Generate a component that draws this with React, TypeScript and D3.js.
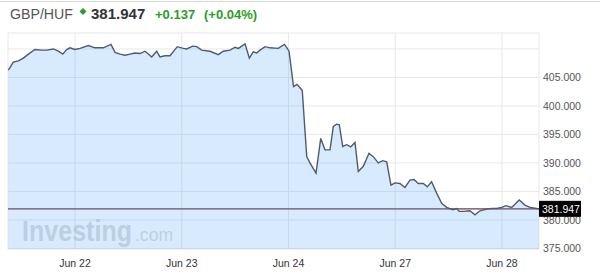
import React from "react";
import * as d3 from "d3";

// time in trading-day units: Jun 21 00:00 = 0, Jun 22 = 1, Jun 23 = 2, Jun 24 = 3, Jun 27 = 4, Jun 28 = 5
const times = [
  0.375, 0.422, 0.469, 0.516, 0.563, 0.625, 0.688, 0.735, 0.797, 0.844, 0.885, 0.922, 0.953, 1.0, 1.047,
  1.125, 1.187, 1.265, 1.337, 1.375, 1.422, 1.468, 1.515, 1.562, 1.609, 1.656, 1.687, 1.718, 1.765, 1.796,
  1.843, 1.89, 1.958, 2.014, 2.046, 2.103, 2.14, 2.187, 2.265, 2.342, 2.389, 2.452, 2.499, 2.53, 2.562,
  2.593, 2.633, 2.67, 2.702, 2.733, 2.78, 2.827, 2.904, 2.961, 2.985, 3.005, 3.047, 3.08, 3.108, 3.129,
  3.171, 3.201, 3.258, 3.302, 3.342, 3.389, 3.42, 3.451, 3.476, 3.508, 3.545, 3.583, 3.623, 3.654, 3.701,
  3.754, 3.794, 3.841, 3.882, 3.92, 3.96, 3.998, 4.044, 4.091, 4.138, 4.176, 4.216, 4.263, 4.3, 4.341,
  4.388, 4.435, 4.482, 4.538, 4.576, 4.6, 4.637, 4.7, 4.747, 4.794, 4.857, 4.903, 4.95, 4.997, 5.037,
  5.091, 5.162, 5.215, 5.262, 5.325, 5.346,
];
const prices = [
  406.3, 407.7, 407.9, 408.4, 409.1, 409.9, 409.8, 409.8, 410.0, 409.6, 409.1, 409.9, 410.2, 409.9, 410.1,
  410.6, 410.2, 410.2, 410.8, 409.4, 409.1, 408.9, 409.1, 409.3, 409.2, 409.6, 409.1, 408.6, 409.6, 408.6,
  408.8, 408.8, 410.4, 410.1, 410.0, 410.5, 410.4, 409.8, 409.6, 409.0, 409.6, 409.8, 410.3, 410.1, 410.5,
  410.9, 408.4, 409.5, 409.3, 409.8, 410.4, 410.2, 410.1, 410.8, 410.2, 409.6, 403.4, 403.8, 403.2, 402.7,
  391.1, 390.0, 388.2, 394.3, 392.3, 392.3, 396.4, 396.8, 396.7, 392.9, 393.2, 392.8, 393.6, 388.5, 389.4,
  391.7, 391.1, 390.0, 390.4, 390.2, 386.1, 386.5, 386.4, 385.7, 387.0, 387.1, 386.4, 386.4, 385.8, 386.7,
  384.7, 382.9, 382.2, 381.8, 382.0, 381.5, 381.5, 381.6, 380.9, 381.6, 381.9, 382.0, 382.0, 382.2, 382.5,
  382.2, 383.5, 382.6, 382.2, 382.0, 381.947,
];

const xTickValues = [1, 2, 3, 4, 5];
const xTickLabels = ["Jun 22", "Jun 23", "Jun 24", "Jun 27", "Jun 28"];
const yGridValues = [375, 380, 385, 390, 395, 400, 405, 410];
const yLabelValues = [375, 380, 385, 390, 395, 400, 405];

const symbol = "GBP/HUF";
const lastPrice = 381.947;
const change = "+0.137";
const changePct = "(+0.04%)";

const FONT = "'Liberation Sans', Arial, sans-serif";

export default function App() {
  const W = 600;
  const H = 274;
  const x = d3.scaleLinear().domain([0.372, 5.347]).range([8, 539]);
  const y = d3.scaleLinear().domain([374.9, 412.8]).range([249, 33]);
  const pts = times.map((t, i) => [t, prices[i]] as [number, number]);
  const line = d3.line<[number, number]>().x((d) => x(d[0])).y((d) => y(d[1]));
  const area = d3
    .area<[number, number]>()
    .x((d) => x(d[0]))
    .y0(y(374.9))
    .y1((d) => y(d[1]));
  const py = y(lastPrice);

  return (
    <svg
      width={W}
      height={H}
      style={{ position: "absolute", left: 0, top: 0, background: "#fff" }}
      fontFamily={FONT}
    >
      <line x1={0} x2={W} y1={1.5} y2={1.5} stroke="#d8d8d8" strokeWidth={1} />
      {/* header */}
      <text x={10} y={19} fontSize={15} fill="#555" textLength={63} lengthAdjust="spacingAndGlyphs">{symbol}</text>
      <path d="M83,8 L86.5,11.5 L83,15 L79.5,11.5 Z" fill="#2a9d2a" />
      <text x={91} y={19} fontSize={15} fontWeight="bold" fill="#333">{lastPrice.toFixed(3)}</text>
      <text x={155} y={19} fontSize={13} fontWeight="bold" fill="#2a9d2a">{change}</text>
      <text x={204} y={19} fontSize={13} fontWeight="bold" fill="#2a9d2a">{changePct}</text>

      {/* grid */}
      <rect x={8} y={33} width={531} height={216} fill="none" stroke="#e8e8e8" />
      {yGridValues.map((v) => (
        <line key={"gy" + v} x1={8} x2={539} y1={y(v)} y2={y(v)} stroke="#e8e8e8" />
      ))}
      {xTickValues.map((v) => (
        <line key={"gx" + v} x1={x(v)} x2={x(v)} y1={33} y2={249} stroke="#e8e8e8" />
      ))}

      {/* price line under translucent area */}
      <line x1={8} x2={539} y1={py} y2={py} stroke="#7a3a40" strokeWidth={1.3} />
      <path d={area(pts) || ""} fill="rgb(60,150,245)" fillOpacity={0.2} />

      {/* watermark */}
      <text y={241} fill="#a9bccf" fillOpacity={0.6}>
        <tspan x={22} fontSize={30} fontWeight="bold" textLength={110} lengthAdjust="spacingAndGlyphs">Investing</tspan>
        <tspan x={135} fontSize={18} textLength={38} lengthAdjust="spacingAndGlyphs">.com</tspan>
      </text>

      <path d={line(pts) || ""} fill="none" stroke="#4f5a6e" strokeWidth={1.4} />

      {/* y labels */}
      {yLabelValues.map((v) => (
        <text key={"yl" + v} x={543} y={y(v) + 4} fontSize={10.5} fill="#555">
          {v.toFixed(3)}
        </text>
      ))}
      <rect x={539} y={py - 8} width={42} height={16} fill="#000" />
      <text x={542} y={py + 4} fontSize={10.5} fill="#fff">{lastPrice.toFixed(3)}</text>

      {/* x labels */}
      {xTickValues.map((v, i) => (
        <text key={"xl" + v} x={x(v)} y={267} fontSize={10.5} fill="#333" textAnchor="middle">
          {xTickLabels[i]}
        </text>
      ))}
    </svg>
  );
}
